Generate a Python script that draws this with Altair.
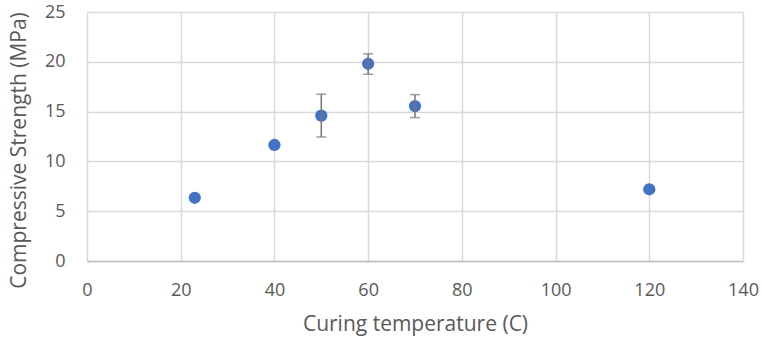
import altair as alt
import pandas as pd

temps = [23, 40, 50, 60, 70, 120]
strength = [6.35, 11.65, 14.6, 19.8, 15.55, 7.2]
err_low = [6.35, 11.65, 12.45, 18.75, 14.4, 7.2]
err_high = [6.35, 11.65, 16.75, 20.8, 16.7, 7.2]
has_err = [False, False, True, True, True, False]

df = pd.DataFrame({"t": temps, "s": strength, "lo": err_low, "hi": err_high, "e": has_err})
err_df = df[df["e"]]

FONT = "Open Sans"
TXT = "#595959"

x = alt.X("t:Q", scale=alt.Scale(domain=[0, 140], nice=False),
          axis=alt.Axis(values=list(range(0, 141, 20)), title="Curing temperature (C)",
                        grid=True, tickSize=0, labelPadding=20, titlePadding=14, labelFlush=False,
                        domainColor="#bfbfbf", domainWidth=1.5))
y = alt.Y("s:Q", scale=alt.Scale(domain=[0, 25], nice=False),
          axis=alt.Axis(values=list(range(0, 26, 5)), title="Compressive Strength (MPa)",
                        grid=True, tickSize=0, labelPadding=22, titlePadding=15, labelFlush=False,
                        titleY=138, domain=False))

base = alt.Chart(df)
rules = alt.Chart(err_df).mark_rule(color="#767676", strokeWidth=1.5).encode(
    x=alt.X("t:Q"), y=alt.Y("lo:Q"), y2="hi:Q")
cap_lo = alt.Chart(err_df).mark_tick(color="#767676", size=10, thickness=1.5, orient="horizontal").encode(
    x="t:Q", y="lo:Q")
cap_hi = alt.Chart(err_df).mark_tick(color="#767676", size=10, thickness=1.5, orient="horizontal").encode(
    x="t:Q", y="hi:Q")
pts = base.mark_circle(size=150, opacity=1, color="#4472C4").encode(x=x, y=y)

chart = alt.layer(pts, rules, cap_lo, cap_hi).properties(
    width=656, height=249,
    autosize=alt.AutoSizeParams(type="none"),
    padding={"left": 87, "top": 12, "right": 19, "bottom": 79},
).configure_view(stroke=None).configure_axis(
    labelFont=FONT, titleFont=FONT, labelColor=TXT, titleColor=TXT,
    labelFontSize=18, titleFontSize=21, titleFontWeight="normal",
    gridColor="#d9d9d9", gridWidth=1.5,
)

chart.save("out.html", embed_options={"renderer": "svg", "actions": False})
